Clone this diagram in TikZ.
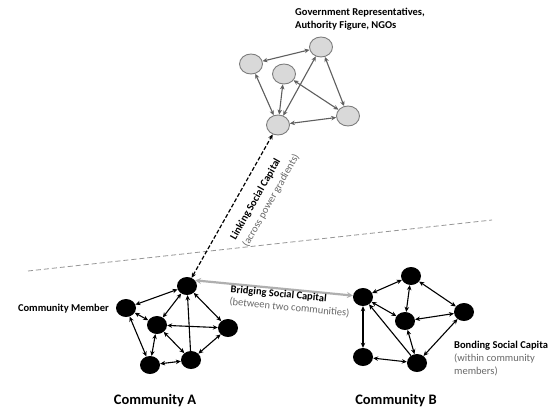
\documentclass[tikz,border=0pt]{standalone}
\usepackage{fontspec}
\setmainfont{Carlito}
\usetikzlibrary{arrows.meta,shapes.geometric}
\definecolor{govfill}{RGB}{217,217,217}
\definecolor{govline}{RGB}{125,125,125}
\definecolor{govedge}{RGB}{95,95,95}
\definecolor{bridgec}{RGB}{175,175,175}
\definecolor{subtext}{RGB}{105,105,105}
\definecolor{divider}{RGB}{150,150,150}
\begin{document}
\begin{tikzpicture}[x=1pt,y=-1pt,
  member/.style={ellipse, fill=black, minimum width=20pt, minimum height=18pt, inner sep=0pt},
  govnode/.style={ellipse, fill=govfill, draw=govline, line width=0.9pt, minimum width=23pt, minimum height=20pt, inner sep=0pt},
  tie/.style={line width=1.1pt, {Stealth[length=5pt,width=4.5pt]}-{Stealth[length=5pt,width=4.5pt]}},
  onetie/.style={line width=1.1pt, -{Stealth[length=5pt,width=4.5pt]}},
  govtie/.style={tie, draw=govedge},
  linktie/.style={line width=1.2pt, dash pattern=on 4pt off 2pt, {Stealth[length=5pt,width=4.5pt]}-{Stealth[length=5pt,width=4.5pt]}},
  bridgetie/.style={line width=2.2pt, draw=bridgec, {Stealth[length=6pt,width=6pt]}-{Stealth[length=6pt,width=6pt]}},
  lbl/.style={font=\bfseries\fontsize{10.5}{12.5}\selectfont, inner sep=0pt, align=left},
  community/.style={font=\bfseries\fontsize{14.5}{16}\selectfont, inner sep=0pt}
]
\fill[white] (0,0) rectangle (552,409);
\useasboundingbox (0,0) rectangle (552,409);

% divider
\coordinate (d1) at (28,271);
\coordinate (d2) at (492,220);
\draw[divider, line width=0.8pt, dash pattern=on 5pt off 3pt] (d1) -- (d2);

% community A
\node[member] (A1) at (187,286) {};
\node[member] (A2) at (126,308) {};
\node[member] (A3) at (157,325) {};
\node[member] (A4) at (228,328) {};
\node[member] (A5) at (150,365) {};
\node[member] (A6) at (191,360) {};

% community B
\node[member] (B1) at (363,297) {};
\node[member] (B2) at (411,276) {};
\node[member] (B3) at (405,321) {};
\node[member] (B4) at (464,312) {};
\node[member] (B5) at (363,357) {};
\node[member] (B6) at (417,363) {};

% government
\node[govnode] (G1) at (251,64) {};
\node[govnode] (G2) at (321,47) {};
\node[govnode] (G3) at (284,74) {};
\node[govnode] (G4) at (278,125) {};
\node[govnode] (G5) at (348,116) {};

% ties A
\draw[tie] (A1) -- (A2);
\draw[tie] (A1) -- (A3);
\draw[tie] (A1) -- (A4);
\draw[onetie] (A6) -- (A1);
\draw[tie] (A2) -- (A3);
\draw[tie] (A2) -- (A5);
\draw[tie] (A3) -- (A4);
\draw[tie] (A3) -- (A5);
\draw[tie] (A3) -- (A6);
\draw[tie] (A5) -- (A6);
\draw[tie] (A6) -- (A4);

% ties B
\draw[tie] (B1) -- (B2);
\draw[tie] (B1) -- (B3);
\draw[tie] (B1) -- (B5);
\draw[onetie] (B6) -- (B1);
\draw[tie] (B2) -- (B3);
\draw[tie] (B2) -- (B4);
\draw[tie] (B3) -- (B4);
\draw[tie] (B3) -- (B6);
\draw[tie] (B4) -- (B6);
\draw[tie] (B5) -- (B6);

% ties G
\draw[govtie] (G1) -- (G2);
\draw[govtie] (G1) -- (G4);
\draw[govtie] (G2) -- (G4);
\draw[govtie] (G2) -- (G5);
\draw[govtie] (G3) -- (G4);
\draw[govtie] (G3) -- (G5);
\draw[govtie] (G4) -- (G5);

% linking and bridging
\draw[linktie] (A1) -- (G4);
\draw[bridgetie] (A1.35) -- (B1.172);

% labels
\node[lbl, anchor=north west] (govlbl) at (295,8) {Government Representatives,\\Authority Figure, NGOs};
\node[lbl, anchor=east] (cmlbl) at (109,309) {Community Member};
\node[lbl, font=\bfseries\fontsize{10.5}{14}\selectfont, anchor=north west, rotate=60.5] (linklbl) at (229,237) {Linking Social Capital\\\textnormal{\color{subtext}(across power gradients)}};
\node[lbl, anchor=north west, rotate=-5.5] (bridgelbl) at (231,285) {Bridging Social Capital\\\textnormal{\color{subtext}(between two communities)}};
\node[lbl, font=\bfseries\fontsize{10.5}{13}\selectfont, anchor=north west] (bondlbl) at (454,341) {Bonding Social Capita\\\textnormal{\color{subtext}(within community}\\\textnormal{\color{subtext}members)}};
\node[community] (comA) at (155,401) {Community A};
\node[community] (comB) at (396,401) {Community B};
\end{tikzpicture}
\end{document}
